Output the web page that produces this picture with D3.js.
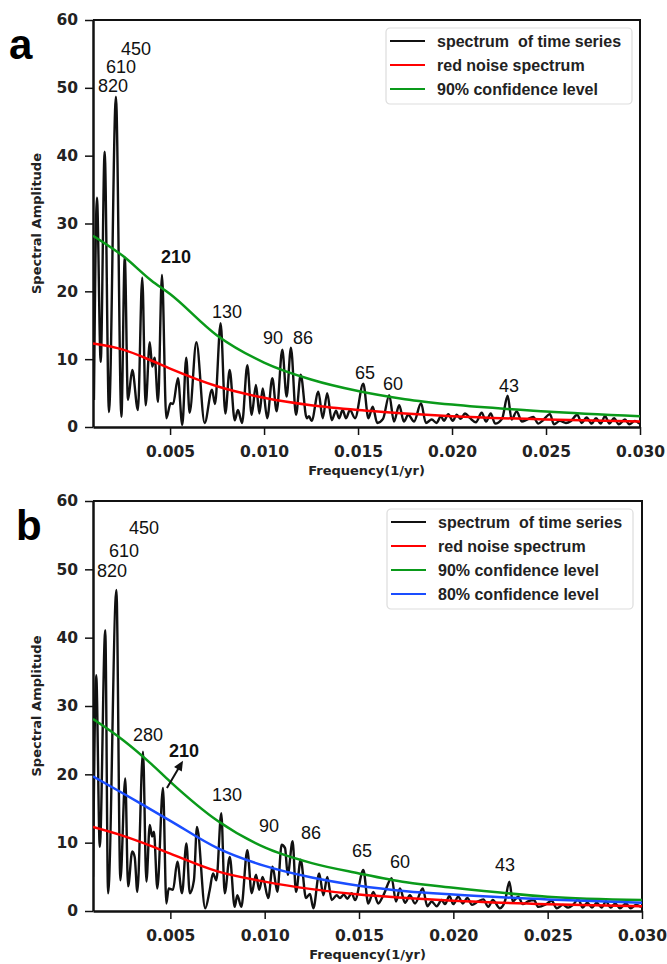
<!DOCTYPE html>
<meta charset="utf-8">
<html>
<script src="https://d3js.org/d3.v7.min.js"></script>
<style>
  body { margin: 0; background: #fff; }
  .tick text { font-family: "DejaVu Sans"; font-weight: bold; font-size: 15.5px; fill: #222; }
  .lbl { font-family: "Liberation Sans"; font-size: 18px; fill: #111; }
  .leg { font-family: "Liberation Sans"; font-weight: bold; font-size: 16px; fill: #222; white-space: pre; }
  .ttl { font-family: "DejaVu Sans"; font-weight: bold; font-size: 13px; fill: #222; }
</style>
<body>
<div id="chart"></div>
<script>
// ---- data ----
const yTicks = [0, 10, 20, 30, 40, 50, 60];
const xTicks = [0.005, 0.010, 0.015, 0.020, 0.025, 0.030];

// panel a spectrum
const freqA = [0.00095,0.00111,0.00131,0.00152,0.00175,0.00212,0.00241,0.00259,0.00276,0.00299,
  0.00329,0.00352,0.00370,0.00392,0.00405,0.00418,0.00436,0.00457,0.00480,0.00503,
  0.00516,0.00542,0.00565,0.00586,0.00604,0.00640,0.00684,0.00723,0.00739,0.00769,
  0.00794,0.00817,0.00844,0.00861,0.00883,0.00911,0.00934,0.00957,0.00975,0.00993,
  0.01017,0.01044,0.01067,0.01097,0.01120,0.01143,0.01170,0.01195,0.01227,0.01239,
  0.01253,0.01289,0.01312,0.01336,0.01360,0.01383,0.01399,0.01418,0.01436,0.01457,
  0.01484,0.01528,0.01555,0.01578,0.01602,0.01633,0.01666,0.01691,0.01719,0.01744,
  0.01767,0.01798,0.01835,0.01861,0.01892,0.01918,0.01941,0.01957,0.01980,0.02004,
  0.02025,0.02046,0.02069,0.02096,0.02127,0.02158,0.02181,0.02206,0.02229,0.02266,
  0.02296,0.02317,0.02344,0.02371,0.02399,0.02432,0.02459,0.02484,0.02521,0.02542,
  0.02574,0.02606,0.02633,0.02666,0.02690,0.02716,0.02743,0.02766,0.02791,0.02814,
  0.02837,0.02862,0.02887,0.02920,0.02943,0.02973,0.02996];
const ampA = [4.0,33.8,9.6,40.6,2.2,48.7,1.5,25.0,4.0,8.4,
  2.5,22.0,3.2,12.5,8.9,10.2,3.7,22.4,1.3,3.5,
  3.4,7.2,0.3,10.2,2.1,12.5,0.6,5.5,3.4,15.3,
  2.0,8.4,1.0,2.5,0.6,9.1,1.8,6.2,2.0,5.7,
  1.3,7.2,2.3,11.4,4.5,11.7,1.8,7.7,1.3,1.6,
  0.9,5.2,1.3,5.0,1.0,2.4,1.3,2.5,1.3,2.5,
  1.3,6.4,1.3,3.0,0.6,1.2,4.7,0.8,3.2,0.8,
  1.8,0.8,3.5,0.6,1.1,0.6,1.6,0.9,1.9,0.9,
  1.8,1.2,2.0,1.3,0.7,2.1,0.8,2.0,0.5,1.2,
  4.6,1.1,2.3,0.8,1.1,1.5,0.5,1.0,1.9,0.4,
  0.9,0.6,0.9,1.8,0.6,1.4,0.5,1.3,0.5,1.6,
  0.5,1.3,0.4,1.1,0.4,0.9,0.5];

// panel b spectrum
const freqB = [0.00090,0.00107,0.00126,0.00155,0.00170,0.00214,0.00235,0.00261,0.00276,0.00298,
  0.00311,0.00325,0.00355,0.00373,0.00391,0.00403,0.00413,0.00431,0.00461,0.00479,
  0.00491,0.00514,0.00537,0.00562,0.00585,0.00603,0.00625,0.00641,0.00685,0.00709,
  0.00726,0.00744,0.00770,0.00788,0.00815,0.00841,0.00855,0.00876,0.00908,0.00931,
  0.00954,0.00971,0.00989,0.01019,0.01042,0.01067,0.01090,0.01108,0.01122,0.01148,
  0.01166,0.01191,0.01219,0.01240,0.01258,0.01289,0.01311,0.01332,0.01355,0.01382,
  0.01399,0.01420,0.01438,0.01461,0.01479,0.01523,0.01549,0.01576,0.01602,0.01629,
  0.01673,0.01696,0.01717,0.01744,0.01770,0.01797,0.01838,0.01862,0.01885,0.01912,
  0.01938,0.01956,0.01979,0.02000,0.02026,0.02050,0.02074,0.02099,0.02131,0.02159,
  0.02185,0.02209,0.02247,0.02274,0.02297,0.02315,0.02344,0.02368,0.02396,0.02427,
  0.02450,0.02491,0.02521,0.02548,0.02581,0.02608,0.02634,0.02662,0.02686,0.02710,
  0.02735,0.02760,0.02786,0.02809,0.02834,0.02858,0.02883,0.02915,0.02940,0.02968,0.02995];
const ampB = [5.0,34.5,9.4,41.1,2.6,47.0,4.5,19.4,3.6,8.7,
  7.9,2.8,23.3,4.3,12.6,10.9,11.6,3.3,18.0,1.1,
  3.3,3.1,7.2,2.6,9.9,2.6,4.5,12.3,0.4,3.1,
  5.5,4.5,14.3,2.6,7.9,0.6,2.3,0.6,8.9,2.6,
  5.3,3.1,5.0,1.9,6.5,2.8,9.7,9.2,5.3,10.2,
  2.8,7.5,1.9,2.5,0.4,5.5,2.3,5.0,1.6,2.3,
  1.9,2.4,1.8,2.6,1.6,6.0,1.1,2.8,1.1,2.3,
  4.8,1.4,3.3,1.2,2.3,1.1,3.3,0.7,1.4,0.7,
  1.6,1.0,2.2,1.0,2.1,1.1,1.9,0.9,1.4,1.7,
  0.6,1.6,0.4,1.5,4.3,1.4,2.1,1.0,1.4,1.6,
  0.6,1.0,1.5,0.4,0.9,0.5,0.9,1.7,0.5,1.2,
  0.5,1.2,0.5,1.4,0.5,1.1,0.4,1.1,0.4,0.9,0.6];

// smooth reference curves
const curveFreq = [0.0009,0.0025,0.004,0.005,0.0075,0.010,0.0125,0.015,0.0175,0.020,0.025,0.030];
const redA    = [12.3,11.4,9.8,8.6,6.0,4.3,3.2,2.5,2.0,1.6,1.1,0.8];
const green90A= [28.2,25.2,21.6,19.6,13.5,9.5,7.0,5.3,4.1,3.3,2.3,1.6];
const redB    = [12.3,11.0,9.5,8.4,5.8,4.3,3.2,2.4,1.9,1.5,1.0,0.7];
const green90B= [28.1,25.0,21.5,18.9,13.2,9.3,7.0,5.5,4.2,3.4,2.1,1.6];
const blue80B = [19.7,17.2,14.8,13.2,9.2,6.6,4.9,3.7,2.9,2.4,1.7,1.2];

// peak labels (text, freq, amplitude of baseline)
const peaksA = [["450",0.00239,54.9],["610",0.00159,52.2],["820",0.00117,49.4],["210",0.00452,24.2,true],
  ["130",0.00723,16.1],["90",0.00994,12.2],["86",0.01154,12.2],["65",0.01484,7.1],["60",0.01633,5.5],["43",0.02250,5.2]];
const peaksB = [["450",0.00281,55.1],["610",0.00175,51.8],["820",0.00111,48.9],["280",0.00302,24.9],["210",0.00493,22.5,true],
  ["130",0.00721,16.1],["90",0.00970,11.6],["86",0.01192,10.5],["65",0.01463,7.9],["60",0.01664,6.3],["43",0.02221,5.9]];

const seriesNames = ["spectrum  of time series", "red noise spectrum", "90% confidence level", "80% confidence level"];
const seriesColors = ["#111", "#ff0000", "#0a9a1a", "#1a4dff"];

const svg = d3.select("#chart").append("svg")
  .attr("width", 667).attr("height", 964);

function panel(o) {
  const x = d3.scaleLinear().domain([0.0009, 0.030]).range([93, o.right]);
  const y = d3.scaleLinear().domain([0, 60]).range([o.bottom, o.top]);
  const g = svg.append("g");

  g.append("clipPath").attr("id", "clip" + o.id)
    .append("rect").attr("x", 93).attr("y", o.top).attr("width", o.right - 93).attr("height", o.bottom - o.top);

  // frame (top + right)
  g.append("path")
    .attr("d", `M93,${o.top}H${o.right}V${o.bottom}`)
    .attr("fill", "none").attr("stroke", "#111").attr("stroke-width", 2);

  const ax = g.append("g").attr("transform", `translate(0,${o.bottom})`)
    .call(d3.axisBottom(x).tickValues(xTicks).tickFormat(d3.format(".3f")).tickSize(8).tickSizeOuter(0).tickPadding(8));
  const ay = g.append("g").attr("transform", "translate(93,0)")
    .call(d3.axisLeft(y).tickValues(yTicks).tickSize(8).tickSizeOuter(0).tickPadding(7));
  [ax, ay].forEach(a => {
    a.select(".domain").attr("stroke", "#111").attr("stroke-width", 2.5);
    a.selectAll(".tick line").attr("stroke", "#111").attr("stroke-width", 1.5);
  });
  ax.selectAll(".tick text").attr("dy", "0.9em");

  const lp = g.append("g").attr("clip-path", `url(#clip${o.id})`);
  const smooth = d3.line().x(d => x(d[0])).y(d => y(d[1])).curve(d3.curveMonotoneX);

  lp.append("path").datum(o.freq.map((f, i) => [f, o.amp[i]]))
    .attr("d", smooth).attr("fill", "none").attr("stroke", "#111").attr("stroke-width", 2.4)
    .attr("stroke-linejoin", "round");
  // noise / confidence curves sit on top of the spectrum
  o.curves.forEach(c => {
    lp.append("path").datum(curveFreq.map((f, i) => [f, c.v[i]]))
      .attr("d", smooth).attr("fill", "none").attr("stroke", seriesColors[c.s]).attr("stroke-width", 2.5);
  });

  o.peaks.forEach(p => {
    g.append("text").attr("class", "lbl")
      .attr("x", x(p[1])).attr("y", y(p[2]))
      .style("font-weight", p[3] ? "bold" : "normal")
      .text(p[0]);
  });

  // axis titles
  g.append("text").attr("class", "ttl")
    .attr("text-anchor", "middle")
    .attr("x", (93 + o.right) / 2).attr("y", o.bottom + 48)
    .text("Frequency(1/yr)");
  g.append("text").attr("class", "ttl")
    .attr("text-anchor", "middle")
    .attr("transform", `translate(41,${(o.top + o.bottom) / 2}) rotate(-90)`)
    .text("Spectral Amplitude");

  // panel letter
  g.append("text").attr("x", o.letterX).attr("y", o.top + 39)
    .style("font-family", "Liberation Sans").style("font-weight", "bold").style("font-size", "42px")
    .text(o.id);

  // legend
  const n = o.curves.length + 1;
  const lg = g.append("g").attr("transform", `translate(${o.legX},${o.top + 8})`);
  lg.append("rect").attr("width", 246).attr("height", 28 + (n - 1) * 24).attr("rx", 4)
    .attr("fill", "#fff").attr("stroke", "#ddd").attr("stroke-width", 1.2);
  const order = [0].concat(o.curves.map(c => c.s).sort());
  order.forEach((s, i) => {
    const yy = 13 + i * 24;
    lg.append("line").attr("x1", 4).attr("x2", 39).attr("y1", yy).attr("y2", yy)
      .attr("stroke", seriesColors[s]).attr("stroke-width", 2);
    lg.append("text").attr("class", "leg").attr("xml:space", "preserve")
      .attr("x", 51).attr("y", yy + 5.5).text(seriesNames[s]);
  });

  return { x, y, g };
}

panel({ id: "a", top: 20, bottom: 427, right: 640, letterX: 9, legX: 386,
  freq: freqA, amp: ampA, peaks: peaksA,
  curves: [{ s: 1, v: redA }, { s: 2, v: green90A }] });

const pb = panel({ id: "b", top: 501, bottom: 911, right: 642, letterX: 16, legX: 387,
  freq: freqB, amp: ampB, peaks: peaksB,
  curves: [{ s: 1, v: redB }, { s: 2, v: green90B }, { s: 3, v: blue80B }] });

// arrow pointing at the 210 label in panel b
const ax0 = pb.x(0.00482), ay0 = pb.y(18.0), ax1 = pb.x(0.00567), ay1 = pb.y(22.0);
const ang = Math.atan2(ay1 - ay0, ax1 - ax0);
pb.g.append("line").attr("x1", ax0).attr("y1", ay0)
  .attr("x2", ax1 - 7 * Math.cos(ang)).attr("y2", ay1 - 7 * Math.sin(ang))
  .attr("stroke", "#111").attr("stroke-width", 2);
const hw = 4.5;
pb.g.append("path")
  .attr("d", `M${ax1},${ay1}` +
    `L${ax1 - 10 * Math.cos(ang) + hw * Math.sin(ang)},${ay1 - 10 * Math.sin(ang) - hw * Math.cos(ang)}` +
    `L${ax1 - 10 * Math.cos(ang) - hw * Math.sin(ang)},${ay1 - 10 * Math.sin(ang) + hw * Math.cos(ang)}Z`)
  .attr("fill", "#111");
</script>
</body>
</html>
